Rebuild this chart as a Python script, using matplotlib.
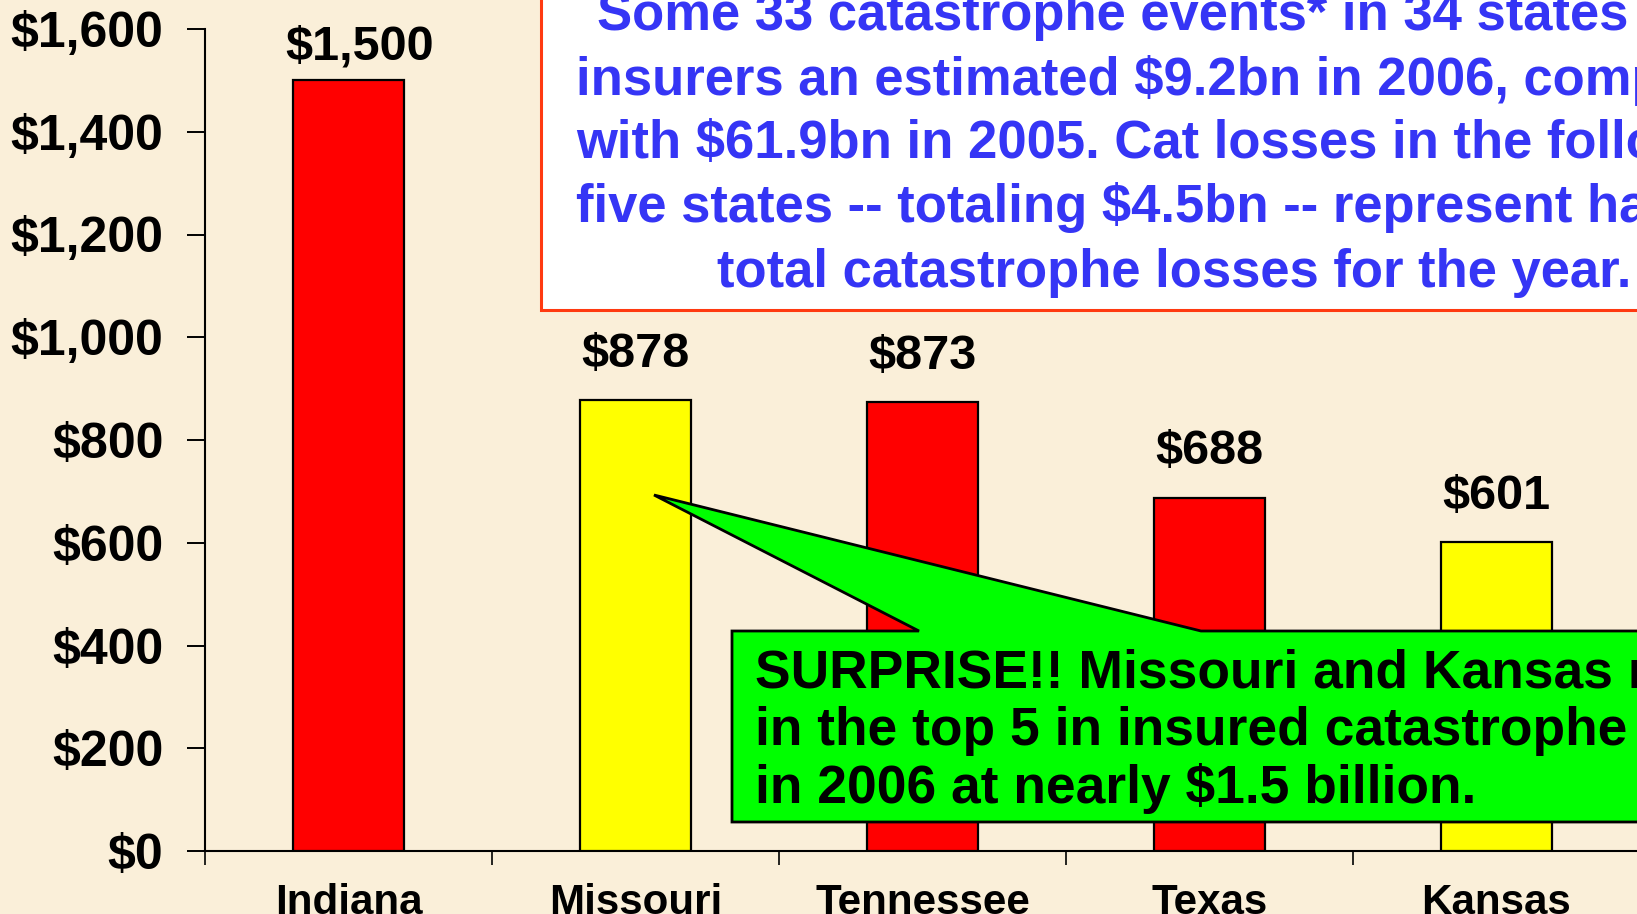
import matplotlib
matplotlib.use("Agg")
import matplotlib.pyplot as plt
from matplotlib.patches import Rectangle, Polygon

# Insured catastrophe losses by state, 2006 ($ millions)
states = ["Indiana", "Missouri", "Tennessee", "Texas", "Kansas"]
losses = [1500, 878, 873, 688, 601]
bar_colors = ["#FF0000", "#FFFF00", "#FF0000", "#FF0000", "#FFFF00"]
y_ticks = [0, 200, 400, 600, 800, 1000, 1200, 1400, 1600]
y_tick_labels = ["$0", "$200", "$400", "$600", "$800", "$1,000", "$1,200", "$1,400", "$1,600"]
value_labels = ["$1,500", "$878", "$873", "$688", "$601"]

note_lines = [
    "Some 33 catastrophe events* in 34 states cost",
    "insurers an estimated $9.2bn in 2006, compared",
    "with $61.9bn in 2005. Cat losses in the following",
    "five states -- totaling $4.5bn -- represent half of",
    "total catastrophe losses for the year.",
]
callout_lines = [
    "SURPRISE!! Missouri and Kansas ranked",
    "in the top 5 in insured catastrophe losses",
    "in 2006 at nearly $1.5 billion.",
]

FONT = "Liberation Sans"
BG = "#FAEFD9"
W, H = 1637, 914

fig = plt.figure(figsize=(W / 100, H / 100), dpi=100, facecolor=BG)


def fx(px):
    return px / W


def fy(py):
    # pixel rows counted from the top edge
    return 1 - py / H


ax = fig.add_axes([fx(205), fy(851), fx(1640 - 205), fy(29) - fy(851)])
ax.set_facecolor("none")

x = list(range(len(states)))
bars = ax.bar(x, losses, width=0.39, color=bar_colors, edgecolor="black",
              linewidth=1.6, zorder=3)

ax.set_xlim(-0.5, len(states) - 0.5)
ax.set_ylim(0, 1600)

for s in ("top", "right"):
    ax.spines[s].set_visible(False)
for s in ("left", "bottom"):
    ax.spines[s].set_linewidth(1.5)
    ax.spines[s].set_color("black")

ax.set_yticks(y_ticks)
ax.set_yticklabels(y_tick_labels, fontsize=36, fontweight="bold", family=FONT)
ax.tick_params(axis="y", direction="out", length=13, width=1.4, pad=17)

# category separators as major ticks, names as minor ticks
ax.set_xticks([i - 0.5 for i in range(len(states) + 1)])
ax.set_xticklabels([])
ax.tick_params(axis="x", which="major", direction="out", length=10, width=1.2)
ax.set_xticks(x, minor=True)
ax.set_xticklabels(states, minor=True, fontsize=30.3, fontweight="bold", family=FONT)
ax.tick_params(axis="x", which="minor", length=0, pad=23)

# value labels above bars; the tallest sits a little closer to its bar
for i, (rect, lab) in enumerate(zip(bars, value_labels)):
    off = (8, 15) if losses[i] == max(losses) else (0, 24)
    ax.annotate(lab, (rect.get_x() + rect.get_width() / 2, rect.get_height()),
                xytext=off, textcoords="offset points", ha="center",
                va="baseline", fontsize=35, fontweight="bold", family=FONT,
                color="black", zorder=4)

# explanatory note box (upper right)
fig.add_artist(Rectangle((fx(541), fy(310)), fx(1200), fy(-50) - fy(310),
                         transform=fig.transFigure, facecolor="white",
                         edgecolor="#FF3A10", linewidth=2.2, zorder=5))
note_baselines = [30, 95, 158, 222, 287]
note_starts = [597, 576, 576, 576, 717]
for line, xs, yb in zip(note_lines, note_starts, note_baselines):
    fig.text(fx(xs), fy(yb), line, ha="left", va="baseline", fontsize=37.9,
             fontweight="bold", family=FONT, color="#3535F5", zorder=6)

# green speech-bubble callout pointing at Missouri
bubble = [(732, 631), (919, 631), (654, 495), (1201, 631), (1750, 631),
          (1750, 822), (732, 822)]
fig.add_artist(Polygon([(fx(px), fy(py)) for px, py in bubble], closed=True,
                       transform=fig.transFigure, facecolor="#00FF00",
                       edgecolor="black", linewidth=2.0, joinstyle="miter",
                       zorder=7))
callout_baselines = [687, 745, 803]
for line, yb in zip(callout_lines, callout_baselines):
    fig.text(fx(755), fy(yb), line, ha="left", va="baseline", fontsize=38.4,
             fontweight="bold", family=FONT, color="black", zorder=8)

fig.savefig("out.png", dpi=100, facecolor=BG)
